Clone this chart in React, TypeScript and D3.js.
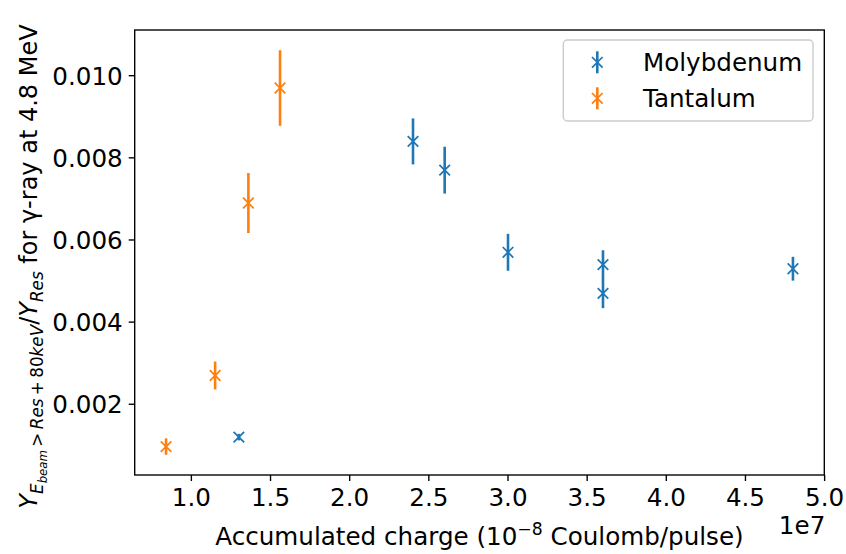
import React from "react";
import * as d3 from "d3";

// Molybdenum series
const moCharge = [1.3e7, 2.4e7, 2.6e7, 3.0e7, 3.6e7, 3.6e7, 4.8e7];
const moRatio = [0.0012, 0.0084, 0.0077, 0.0057, 0.0054, 0.0047, 0.0053];
const moErr = [0.00008, 0.00056, 0.00057, 0.00045, 0.00035, 0.00036, 0.00029];

// Tantalum series
const taCharge = [0.84e7, 1.15e7, 1.36e7, 1.56e7];
const taRatio = [0.00097, 0.0027, 0.0069, 0.0097];
const taErr = [0.0002, 0.00034, 0.00073, 0.00092];

const xTickValues = [1.0e7, 1.5e7, 2.0e7, 2.5e7, 3.0e7, 3.5e7, 4.0e7, 4.5e7, 5.0e7];
const yTickValues = [0.002, 0.004, 0.006, 0.008, 0.01];

const seriesNames = ["Molybdenum", "Tantalum"];
const seriesColors = ["#1f77b4", "#ff7f0e"];

const W = 846;
const H = 554;
const PL = 134.7;
const PR = 824.3;
const PT = 30;
const PB = 475;
const FONT = "DejaVu Sans, Verdana, sans-serif";
const FS = 24.6;
const FSY = 24;

function autoscale(lo: number, hi: number): [number, number] {
  const r = hi - lo;
  return [lo - 0.05 * r, hi + 0.05 * r];
}

function xMarker(cx: number, cy: number, h: number) {
  return `M${cx - h},${cy - h}L${cx + h},${cy + h}M${cx - h},${cy + h}L${cx + h},${cy - h}`;
}

export default function App() {
  const allX = [...moCharge, ...taCharge];
  const lows = [
    ...moRatio.map((v, i) => v - moErr[i]),
    ...taRatio.map((v, i) => v - taErr[i]),
  ];
  const highs = [
    ...moRatio.map((v, i) => v + moErr[i]),
    ...taRatio.map((v, i) => v + taErr[i]),
  ];
  const x = d3
    .scaleLinear()
    .domain(autoscale(d3.min(allX) as number, d3.max(allX) as number))
    .range([PL, PR]);
  const y = d3
    .scaleLinear()
    .domain(autoscale(d3.min(lows) as number, d3.max(highs) as number))
    .range([PB, PT]);

  const series = [
    { xs: moCharge, ys: moRatio, es: moErr, color: seriesColors[0] },
    { xs: taCharge, ys: taRatio, es: taErr, color: seriesColors[1] },
  ];

  const MH = 5.3;
  const ELW = 2.6;
  const MLW = 1.75;
  const SW = 1.37;
  const TL = 6;

  const cy = (PT + PB) / 2;

  return (
    <svg
      width={W}
      height={H}
      viewBox={`0 0 ${W} ${H}`}
      style={{ position: "absolute", left: 0, top: 0, background: "#fff" }}
      fontFamily={FONT}
    >
      <rect x={0} y={0} width={W} height={H} fill="#fff" />
      {/* data */}
      {series.map((s, si) => (
        <g key={si} stroke={s.color} fill="none">
          {s.xs.map((xv, i) => (
            <line
              key={"e" + i}
              x1={x(xv)}
              x2={x(xv)}
              y1={y(s.ys[i] - s.es[i])}
              y2={y(s.ys[i] + s.es[i])}
              strokeWidth={ELW}
            />
          ))}
          {s.xs.map((xv, i) => (
            <path key={"m" + i} d={xMarker(x(xv), y(s.ys[i]), MH)} strokeWidth={MLW} />
          ))}
        </g>
      ))}

      {/* spines */}
      <rect x={PL} y={PT} width={PR - PL} height={PB - PT} fill="none" stroke="#000" strokeWidth={SW} />

      {/* x ticks */}
      {xTickValues.map((t) => (
        <g key={t}>
          <line x1={x(t)} x2={x(t)} y1={PB} y2={PB + TL} stroke="#000" strokeWidth={SW} />
          <text x={x(t)} y={PB + 31} fontSize={FS} textAnchor="middle" fill="#000">
            {(t / 1e7).toFixed(1)}
          </text>
        </g>
      ))}
      <text x={PR + 1} y={534} fontSize={FS} textAnchor="end" fill="#000">
        1e7
      </text>

      {/* y ticks */}
      {yTickValues.map((t) => (
        <g key={t}>
          <line x1={PL - TL} x2={PL} y1={y(t)} y2={y(t)} stroke="#000" strokeWidth={SW} />
          <text x={PL - 12} y={y(t) + 8.9} fontSize={FS} textAnchor="end" fill="#000">
            {d3.format(".3f")(t)}
          </text>
        </g>
      ))}

      {/* x label */}
      <text x={(PL + PR) / 2} y={545} fontSize={FS} textAnchor="middle" fill="#000">
        <tspan>Accumulated charge (10</tspan>
        <tspan fontSize={FS * 0.7} dy={-10}>−8</tspan>
        <tspan dy={10}> Coulomb/pulse)</tspan>
      </text>

      {/* y label */}
      <text
        transform={`translate(37,${cy + 14}) rotate(-90)`}
        fontSize={FSY}
        textAnchor="middle"
        fill="#000"
      >
        <tspan fontStyle="italic">Y</tspan>
        <tspan fontSize={FSY * 0.7} fontStyle="italic" dy={6}>E</tspan>
        <tspan fontSize={FSY * 0.49} fontStyle="italic" dy={3.5}>beam</tspan>
        <tspan fontSize={FSY * 0.7} dy={-3.5}>{"\u2009>\u2009"}</tspan>
        <tspan fontSize={FSY * 0.7} fontStyle="italic">Res</tspan>
        <tspan fontSize={FSY * 0.7}>{"\u2009+\u2009"}80</tspan>
        <tspan fontSize={FSY * 0.7} fontStyle="italic">keV</tspan>
        <tspan dy={-6}>/</tspan>
        <tspan fontStyle="italic">Y</tspan>
        <tspan fontSize={FSY * 0.7} fontStyle="italic" dy={6}>Res</tspan>
        <tspan dy={-6}>{" for \u03b3-ray at 4.8 MeV"}</tspan>
      </text>

      {/* legend */}
      <rect x={563.3} y={40} width={249.7} height={81} rx={4} ry={4} fill="#fff" fillOpacity={0.8} stroke="#cccccc" strokeWidth={1.4} />
      {seriesNames.map((name, i) => {
        const ly = 62.3 + i * 36;
        const lx = 597.3;
        return (
          <g key={name}>
            <line x1={lx} x2={lx} y1={ly - 11} y2={ly + 11} stroke={seriesColors[i]} strokeWidth={ELW} />
            <path d={xMarker(lx, ly, MH)} stroke={seriesColors[i]} strokeWidth={MLW} fill="none" />
            <text x={643} y={ly + 8.8} fontSize={FS} fill="#000">
              {name}
            </text>
          </g>
        );
      })}
    </svg>
  );
}
